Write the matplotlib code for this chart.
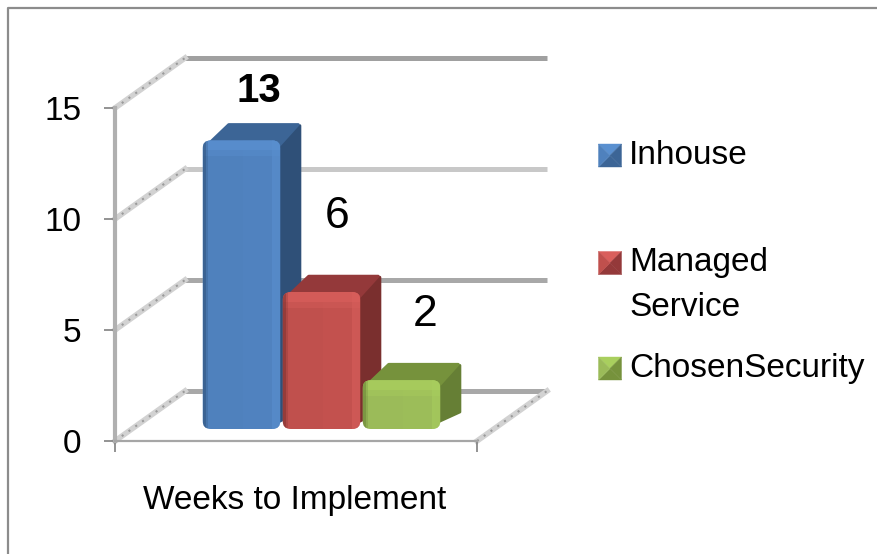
import matplotlib
matplotlib.use('Agg')
import matplotlib.pyplot as plt
from matplotlib.patches import FancyBboxPatch, Polygon, Rectangle
from matplotlib.transforms import Affine2D

plt.rcParams['font.family'] = ['Liberation Sans', 'DejaVu Sans']

# data
category = 'Weeks to Implement'
series = ['Inhouse', 'Managed\nService', 'ChosenSecurity']
bar_heights = [13, 6.17, 2.2]
value_labels = ['13', '6', '2']
y_ticks = [0, 5, 10, 15]

# front, top, side, highlight
colors = [('#4f81bd', '#3c6596', '#2f5078', '#5a90d0'),
          ('#c0504d', '#94393a', '#7a2f2e', '#d95f5c'),
          ('#9bbb59', '#76923c', '#667f35', '#a9cf5e')]

W, H = 878, 554
fig = plt.figure(figsize=(W / 100, H / 100), dpi=100)

# the axes is the front plane of the 3d box, placed in pixels of the picture
left, right, top, bottom = 115, 477, 108, 441
ax = fig.add_axes([left / W, 1 - bottom / H, (right - left) / W, (bottom - top) / H])
ax.patch.set_alpha(0)
x_left, x_right = -1.394, 3.131
ax.set_ylim(0, 15)
ax.set_xlim(x_left, x_right)
px_x = (right - left) / (x_right - x_left)   # pixels per x unit
px_y = (bottom - top) / 15                   # pixels per y unit

# frame around the chart
fig.add_artist(plt.Line2D([8 / W, 8 / W, 1], [0, 1 - 8 / H, 1 - 8 / H],
                          color='#8c8c8c', lw=1.6))


def shifted(dx, dy):
    return ax.transData + Affine2D().translate(dx, dy)


# back wall lines
wall_x, wall_y = 70 / px_x, 50 / px_y
for t, c in zip(y_ticks, ['#a8a8a8', '#a8a8a8', '#c8c8c8', '#a0a0a0']):
    ax.plot([x_left + wall_x, x_right + wall_x], [t + wall_y, t + wall_y], color=c, lw=3.6,
            solid_capstyle='butt', clip_on=False, zorder=1)

# side wall lines, hatched look
side_starts = [(x_left, t) for t in y_ticks] + [(x_right, 0)]
for x0, t in side_starts:
    for col, lw, ls in [('#d2d2d2', 4, '-'), ('#9a9a9a', 1.5, (0, (1, 3)))]:
        ax.plot([x0, x0 + wall_x], [t, t + wall_y], color=col, lw=lw, ls=ls,
                clip_on=False, zorder=1.5)

# axes lines and ticks
for s in ['top', 'right']:
    ax.spines[s].set_visible(False)
ax.spines['left'].set_color('#b0b0b0')
ax.spines['left'].set_linewidth(3)
ax.spines['bottom'].set_color('#a6a6a6')
ax.spines['bottom'].set_linewidth(1.6)
ax.set_yticks(y_ticks)
ax.tick_params(axis='y', length=8, width=1.2, color='#808080', labelsize=24, pad=16)
ax.set_xticks([x_left, x_right])
ax.set_xticklabels(['', ''])
ax.tick_params(axis='x', length=8, width=1.2, color='#808080')
fig.text(295 / W, 1 - 500 / H, category, fontsize=24, ha='center', va='center', color='black')

# bars: front sits (15, 12) px into the box, with (22, 17) px of depth
width = 0.97
ddx, ddy = 22 / px_x, 17 / px_y
round_x, round_y = 8 / px_x, 8 / px_y
tr = shifted(15, 12)
for i, (v, c) in enumerate(zip(bar_heights, colors)):
    front, top_c, side, hi = c
    x0, x1 = i - width / 2, i + width / 2
    z = 3 + i
    ax.add_patch(Polygon([(x1 - 0.1, 0.2), (x1 + ddx - 0.03, ddy), (x1 + ddx - 0.03, v + ddy - 0.1),
                          (x1 - 0.1, v - 0.1)],
                         closed=True, fc=side, ec=side, lw=2, joinstyle='round',
                         transform=tr, zorder=z, clip_on=False))
    ax.add_patch(Polygon([(x0 + 0.03, v - 0.3), (x0 + ddx + 0.05, v + ddy - 0.05),
                          (x1 + ddx - 0.05, v + ddy - 0.05), (x1 - 0.03, v - 0.3)],
                         closed=True, fc=top_c, ec=top_c, lw=2, joinstyle='round',
                         transform=tr, zorder=z + 0.05, clip_on=False))
    box = FancyBboxPatch((x0, 0), width, v,
                         boxstyle='round,pad=0,rounding_size=%f' % round_x,
                         mutation_aspect=round_y / round_x, fc=front, ec='none',
                         transform=tr, zorder=z + 0.1, clip_on=False)
    ax.add_patch(box)
    # bevel strips along the edges of the front, clipped to the rounded box
    strips = [((x0, v - 0.45), width, 0.45, hi, 0.8),
              ((x0, v - 0.7), width, 0.25, hi, 0.4),
              ((x0, 0), 0.035, v, side, 0.6),
              ((x0 + 0.035, 0), 0.035, v, side, 0.25),
              ((x1 - 0.1, 0), 0.1, v, hi, 0.55),
              ((x0 + 0.5, 0), 0.4, v, hi, 0.12)]
    for xy, w_, h_, col, a in strips:
        r = Rectangle(xy, w_, h_, fc=col, ec='none', alpha=a, transform=tr,
                      zorder=z + 0.2, clip_on=True)
        ax.add_patch(r)
        r.set_clip_path(box)

# value labels
label_pos = [(259, 91), (337, 216), (425, 314)]
label_font = [(29, 'bold'), (32, 'normal'), (32, 'normal')]
for lab, (px, py), (fs, w) in zip(value_labels, label_pos, label_font):
    fig.text(px / W, 1 - py / H, lab, fontsize=fs, fontweight=w, ha='center', va='center', color='black')

# legend, drawn by hand because the rows are not evenly spaced
legend_y = [155.5, 263, 368.5]
text_y = [156, 262, 369]
for name, c, ly, ty in zip(series, colors, legend_y, text_y):
    front, top_c, side, hi = c
    s = 11.5
    cx = 610
    tl, tr_, br, bl = (cx - s, ly - s), (cx + s, ly - s), (cx + s, ly + s), (cx - s, ly + s)
    m = (cx, ly)
    for tri, col in [((tl, tr_, m), hi), ((tr_, br, m), top_c), ((br, bl, m), top_c), ((bl, tl, m), front)]:
        fig.add_artist(Polygon([(p[0] / W, 1 - p[1] / H) for p in tri], closed=True, fc=col, ec=col,
                               lw=0.3, transform=fig.transFigure))
    for j, line in enumerate(name.split('\n')):
        fig.text(629 / W, 1 - (ty + 45 * j) / H, line, fontsize=24, va='center', color='black')

fig.savefig('out.png', dpi=100)
